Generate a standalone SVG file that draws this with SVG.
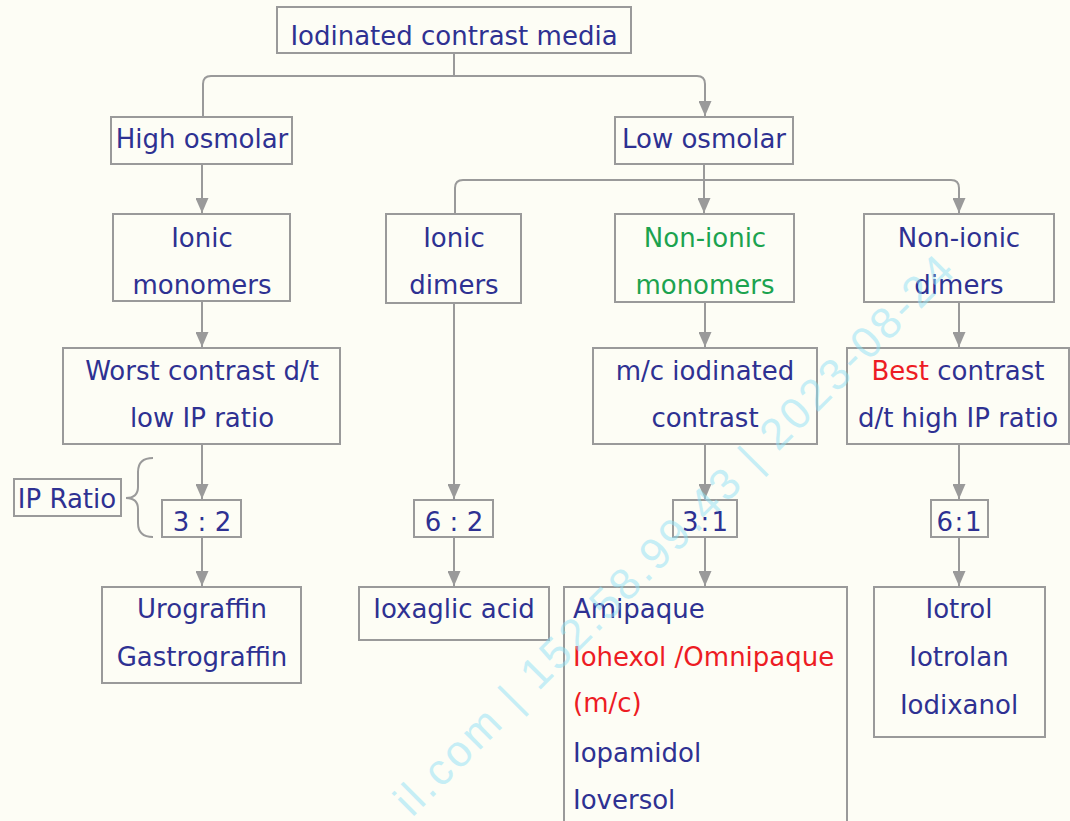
<svg xmlns="http://www.w3.org/2000/svg" width="1070" height="821" viewBox="0 0 1070 821">
<defs>
<style>
.bg{fill:#fdfdf5}
.box{fill:#fdfdf5;stroke:#9a9a9a;stroke-width:2}
.t{font-family:"DejaVu Sans","Liberation Sans",sans-serif;font-size:26px;fill:#2e3192;text-anchor:middle}
.l{text-anchor:start}
.g{fill:#1ca34f}
.r{fill:#ed1c24}
.c{fill:none;stroke:#9a9a9a;stroke-width:2}
.wm{font-family:"Liberation Sans",sans-serif;font-size:44px;fill:#8fe0f5;fill-opacity:0.5}
</style>
<marker id="ah" markerUnits="userSpaceOnUse" markerWidth="15" markerHeight="13" refX="15" refY="6.5" orient="auto">
<path d="M0 0 L15 6.5 L0 13 Z" fill="#9a9a9a"/>
</marker>
</defs>
<rect class="bg" x="0" y="0" width="1070" height="821"/>

<g id="connectors">
<path class="c" d="M454 53 V76"/>
<path class="c" d="M203 116 V84 Q203 76 211 76 H697 Q705 76 705 84 V116" marker-start="url(#ah)" marker-end="url(#ah)"/>
<path class="c" d="M704 164 V213" marker-end="url(#ah)"/>
<path class="c" d="M455 213 V188 Q455 180 463 180 H951 Q959 180 959 188 V213" marker-start="url(#ah)" marker-end="url(#ah)"/>
<path class="c" d="M202 164 V213" marker-end="url(#ah)"/>
<path class="c" d="M202 301 V347" marker-end="url(#ah)"/>
<path class="c" d="M202 444 V499" marker-end="url(#ah)"/>
<path class="c" d="M202 537 V586" marker-end="url(#ah)"/>
<path class="c" d="M454 303 V499" marker-end="url(#ah)"/>
<path class="c" d="M454 537 V586" marker-end="url(#ah)"/>
<path class="c" d="M705 302 V347" marker-end="url(#ah)"/>
<path class="c" d="M705 444 V499" marker-end="url(#ah)"/>
<path class="c" d="M705 537 V586" marker-end="url(#ah)"/>
<path class="c" d="M959 302 V347" marker-end="url(#ah)"/>
<path class="c" d="M959 444 V499" marker-end="url(#ah)"/>
<path class="c" d="M959 537 V586" marker-end="url(#ah)"/>
<path class="c" d="M153 458 Q138 458 138 472 V487 Q138 498 126 498 Q138 498 138 509 V523 Q138 537 153 537"/>
</g>

<g id="n-root"><rect class="box" x="277" y="7" width="354" height="46"/><text class="t" x="454" y="45">Iodinated contrast media</text></g>
<g id="n-high"><rect class="box" x="111" y="117" width="181" height="47"/><text class="t" x="202" y="148">High osmolar</text></g>
<g id="n-low"><rect class="box" x="615" y="117" width="178" height="47"/><text class="t" x="704" y="148">Low osmolar</text></g>

<g id="n-ionic-mono"><rect class="box" x="113" y="214" width="177" height="87"/><text class="t" x="202" y="247">Ionic</text><text class="t" x="202" y="294">monomers</text></g>
<g id="n-ionic-di"><rect class="box" x="386" y="214" width="135" height="89"/><text class="t" x="454" y="247">Ionic</text><text class="t" x="454" y="294">dimers</text></g>
<g id="n-nonionic-mono"><rect class="box" x="615" y="214" width="179" height="88"/><text class="t g" x="705" y="247">Non-ionic</text><text class="t g" x="705" y="294">monomers</text></g>
<g id="n-nonionic-di"><rect class="box" x="864" y="214" width="190" height="88"/><text class="t" x="959" y="247">Non-ionic</text><text class="t" x="959" y="294">dimers</text></g>

<g id="n-worst"><rect class="box" x="63" y="348" width="277" height="96"/><text class="t" x="202" y="380">Worst contrast d/t</text><text class="t" x="202" y="427">low IP ratio</text></g>
<g id="n-mc"><rect class="box" x="593" y="348" width="224" height="96"/><text class="t" x="705" y="380">m/c iodinated</text><text class="t" x="705" y="427">contrast</text></g>
<g id="n-best"><rect class="box" x="847" y="348" width="222" height="96"/><text class="t" x="958" y="380"><tspan class="r">Best</tspan> contrast</text><text class="t" x="958" y="427">d/t high IP ratio</text></g>

<g id="n-ipratio"><rect class="box" x="14" y="479" width="107" height="37"/><text class="t" x="67" y="508">IP Ratio</text></g>
<g id="n-32"><rect class="box" x="162" y="500" width="79" height="37"/><text class="t" x="202" y="531">3 : 2</text></g>
<g id="n-62"><rect class="box" x="414" y="500" width="79" height="37"/><text class="t" x="454" y="531">6 : 2</text></g>
<g id="n-31"><rect class="box" x="673" y="500" width="64" height="37"/><text class="t" x="705" y="531" textLength="46" lengthAdjust="spacing">3 : 1</text></g>
<g id="n-61"><rect class="box" x="931" y="500" width="57" height="37"/><text class="t" x="959" y="531" textLength="45" lengthAdjust="spacing">6 : 1</text></g>

<g id="n-uro"><rect class="box" x="102" y="587" width="199" height="96"/><text class="t" x="202" y="618">Urograffin</text><text class="t" x="202" y="666">Gastrograffin</text></g>
<g id="n-iox"><rect class="box" x="359" y="587" width="190" height="53"/><text class="t" x="454" y="618">Ioxaglic acid</text></g>
<g id="n-list"><rect class="box" x="564" y="587" width="283" height="250"/>
<text class="t l" x="573" y="618">Amipaque</text>
<text class="t l r" x="573" y="666">Iohexol /Omnipaque</text>
<text class="t l r" x="573" y="712">(m/c)</text>
<text class="t l" x="573" y="762">Iopamidol</text>
<text class="t l" x="573" y="809">Ioversol</text></g>
<g id="n-iotrol"><rect class="box" x="874" y="587" width="171" height="150"/><text class="t" x="959" y="618">Iotrol</text><text class="t" x="959" y="666">Iotrolan</text><text class="t" x="959" y="714">Iodixanol</text></g>

<text class="wm" transform="translate(412,818) rotate(-45)" textLength="770" lengthAdjust="spacing">il.com | 152.58.99.43 | 2023-08-24</text>
</svg>
